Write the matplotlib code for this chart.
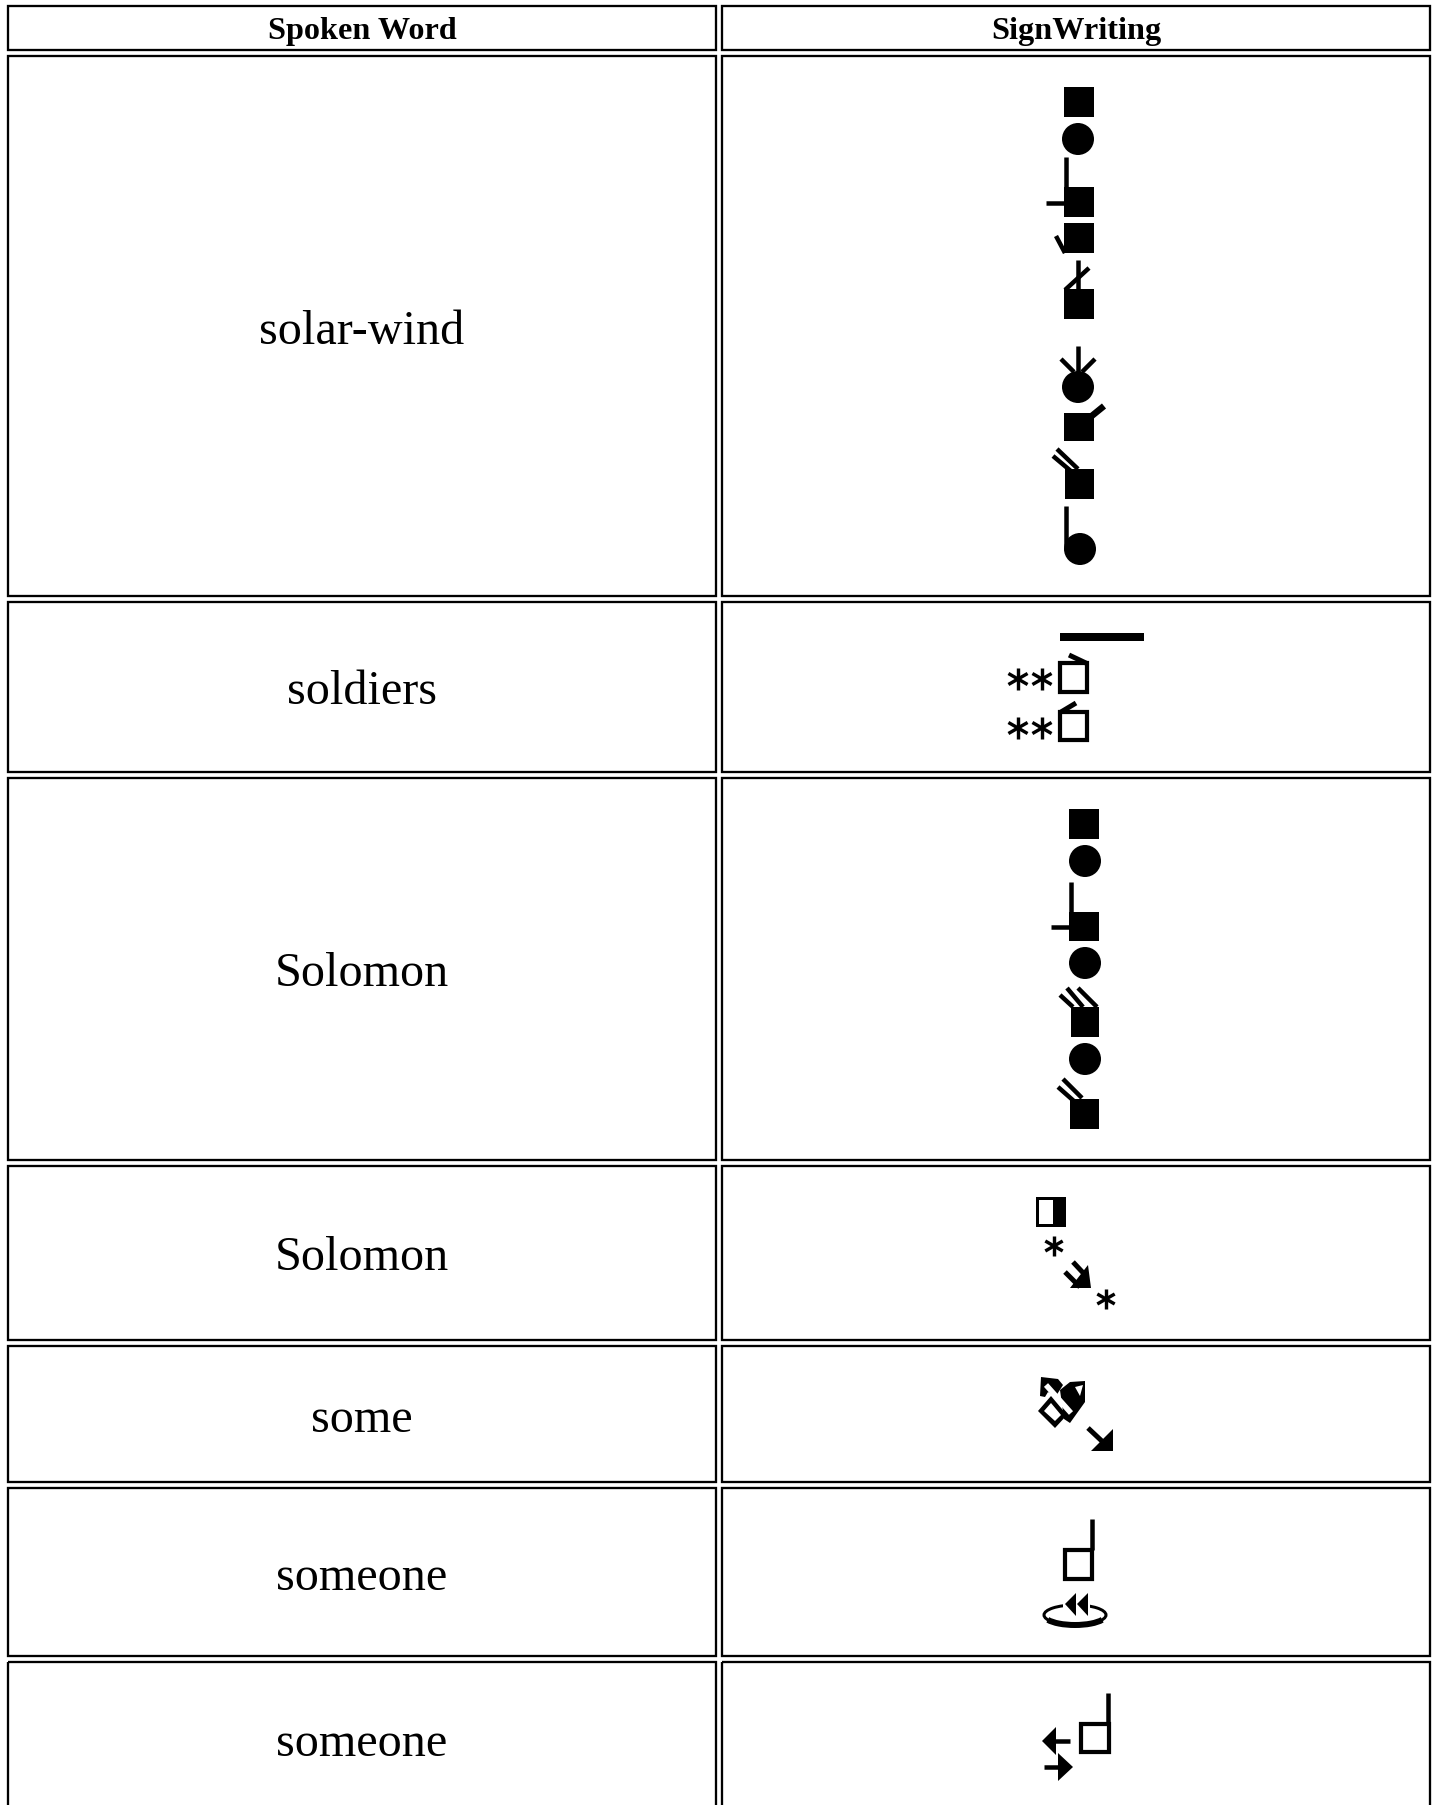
#!/usr/bin/env python3
import matplotlib
matplotlib.use('agg')
import matplotlib.pyplot as plt
from matplotlib.patches import Rectangle, Circle, Polygon, Ellipse, Arc

header = ["Spoken Word", "SignWriting"]
words = ["solar-wind", "soldiers", "Solomon", "Solomon", "some", "someone", "someone"]

W, H = 1435, 1805
fig = plt.figure(figsize=(W/100, H/100), dpi=100)
ax = fig.add_axes([0, 0, 1, 1])
ax.set_xlim(0, W)
ax.set_ylim(H, 0)
ax.axis('off')

PX = 0.72  # one pixel in points

def sq(x0, y0, x1, y1):
    ax.add_patch(Rectangle((x0, y0), x1-x0, y1-y0, fc='black', ec='none'))

def box(x0, y0, x1, y1, lw=4.2):
    ax.add_patch(Rectangle((x0, y0), x1-x0, y1-y0, fc='none', ec='black', lw=lw*PX))

def circ(x, y, r=16):
    ax.add_patch(Circle((x, y), r, fc='black', ec='none'))

def line(x0, y0, x1, y1, lw=4.5, color='black'):
    ax.plot([x0, x1], [y0, y1], color=color, lw=lw*PX, solid_capstyle='butt')

def tri(*pts, fc='black'):
    ax.add_patch(Polygon(pts, closed=True, fc=fc, ec='none'))

def star(x, y, r=11):
    line(x, y-r, x, y+r, 3.4)
    line(x-r*0.87, y-r*0.5, x+r*0.87, y+r*0.5, 3.4)
    line(x-r*0.87, y+r*0.5, x+r*0.87, y-r*0.5, 3.4)

# table cells
col_x = [(8, 716), (722, 1430)]
row_y = [(6, 50), (56, 596), (602, 772), (778, 1160), (1166, 1340), (1346, 1482), (1488, 1656), (1662, 1815)]
for x0, x1 in col_x:
    for i, (y0, y1) in enumerate(row_y):
        ax.add_patch(Rectangle((x0, y0), x1-x0, y1-y0 + (40 if i == 7 else 0),
                               fc='none', ec='black', lw=2.3*PX))

for (x0, x1), t in zip(col_x, header):
    ax.text((x0+x1)/2, 39, t, family='Liberation Serif', weight='bold', size=23.2,
            ha='center', va='baseline', color='black')
x_mid = sum(col_x[0])/2
for (y0, y1), t in zip(row_y[1:], words):
    ax.text(x_mid, (y0+y1)/2+17.5, t, family='Liberation Serif', size=34.7,
            ha='center', va='baseline', color='black')

# solar-wind
sq(1064, 87, 1094, 117)
circ(1078, 139)
sq(1064, 187, 1094, 217)
line(1066, 157, 1066, 187)
line(1046, 203, 1064, 203)
sq(1064, 223, 1094, 253)
line(1065, 253, 1056, 236)
sq(1064, 289, 1094, 319)
line(1078, 260, 1078, 289)
line(1065, 290, 1089, 268)
circ(1078, 387)
line(1078, 346, 1078, 373)
line(1061, 359, 1074, 372)
line(1095, 359, 1082, 372)
sq(1064, 413, 1094, 441)
line(1088, 419, 1104, 406, 6.5)
sq(1065, 469, 1094, 499)
line(1053, 456, 1072, 472)
line(1057, 449, 1078, 469)
circ(1080, 549)
line(1066, 506, 1066, 547)

# soldiers
sq(1060, 633, 1144, 641)
box(1060, 663, 1087, 692)
line(1069, 655, 1088, 664, 5)
star(1018, 679)
star(1042, 679)
box(1060, 712, 1087, 740)
line(1076, 703, 1061, 712, 5)
star(1018, 728)
star(1042, 728)

# Solomon
sq(1069, 809, 1099, 839)
circ(1085, 861)
sq(1069, 912, 1099, 941)
line(1071, 882, 1071, 912)
line(1051, 927, 1069, 927)
circ(1085, 963)
sq(1071, 1007, 1099, 1037)
line(1060, 995, 1073, 1007)
line(1067, 988, 1083, 1007)
line(1078, 988, 1097, 1007)
circ(1085, 1059)
sq(1070, 1099, 1099, 1129)
line(1058, 1087, 1075, 1102)
line(1063, 1079, 1082, 1098)

# Solomon, second sign
sq(1036, 1197, 1066, 1227)
ax.add_patch(Rectangle((1039, 1200), 14, 24, fc='white', ec='none'))
star(1054, 1246, 10)
star(1106, 1299, 10)
line(1065, 1272, 1080, 1287, 5)
line(1073, 1262, 1087, 1277, 5)
tri((1088, 1265), (1091, 1288), (1070, 1288))

# some
tri((1041, 1377), (1058, 1379), (1063, 1385), (1056, 1396), (1048, 1392), (1045, 1397), (1040, 1396))
tri((1060, 1390), (1070, 1382), (1085, 1381), (1085, 1402), (1070, 1423), (1064, 1419))
tri((1075, 1387), (1083, 1385), (1080, 1396), fc='white')
line(1046, 1385, 1071, 1413, 5.5, 'white')
tri((1038, 1411), (1051, 1396), (1067, 1415), (1055, 1428))
tri((1044, 1411), (1051, 1403), (1061, 1415), (1055, 1421), fc='white')
line(1088, 1428, 1105, 1444, 5)
tri((1113, 1429), (1113, 1451), (1091, 1451))

# someone
box(1065, 1550, 1092, 1579)
line(1092, 1519, 1092, 1550)
ax.add_patch(Ellipse((1075, 1615), 62, 20, fc='none', ec='black', lw=3*PX))
ax.add_patch(Arc((1075, 1615), 62, 20, theta1=10, theta2=170, ec='black', lw=6*PX))
tri((1063, 1600), (1090, 1600), (1090, 1611), (1063, 1611), fc='white')
tri((1065, 1604), (1076, 1593), (1076, 1616))
tri((1077, 1604), (1088, 1593), (1088, 1616))

# someone, second sign
box(1081, 1724, 1109, 1752)
line(1108, 1693, 1108, 1724)
tri((1042, 1741), (1056, 1727), (1056, 1755))
line(1055, 1741, 1070, 1741)
tri((1073, 1767), (1058, 1753), (1058, 1781))
line(1044, 1767, 1059, 1767)

plt.savefig("out.png", dpi=100)
